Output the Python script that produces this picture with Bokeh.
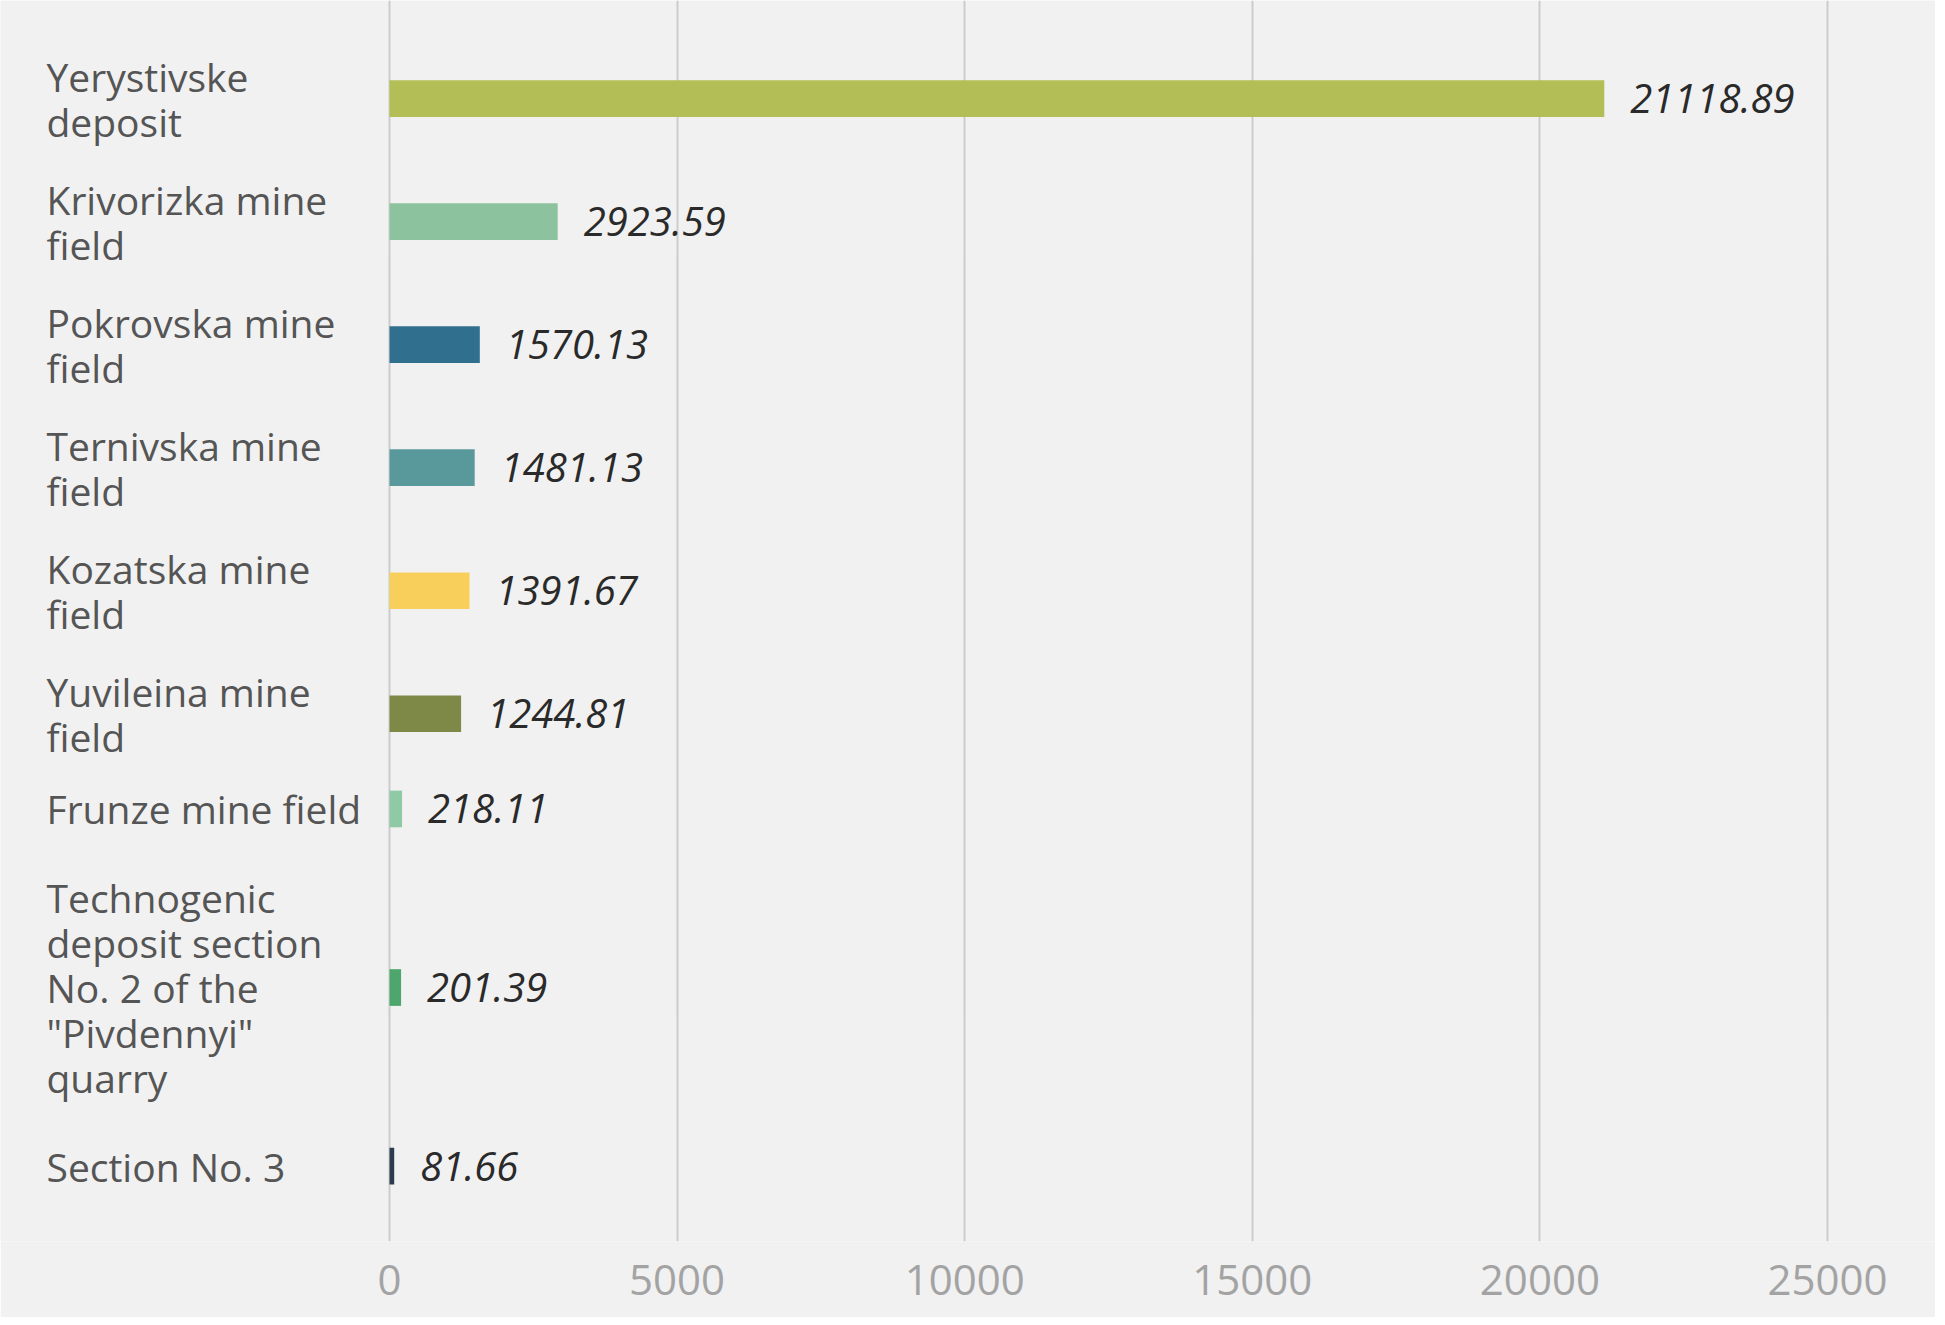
from bokeh.plotting import figure
from bokeh.models import ColumnDataSource, Range1d, FixedTicker
from bokeh.core.properties import value
from bokeh.embed import file_html
from bokeh.resources import INLINE

# ---- data ----
labels = [
    "Yerystivske\ndeposit",
    "Krivorizka mine\nfield",
    "Pokrovska mine\nfield",
    "Ternivska mine\nfield",
    "Kozatska mine\nfield",
    "Yuvileina mine\nfield",
    "Frunze mine field",
    "Technogenic\ndeposit section\nNo. 2 of the\n\"Pivdennyi\"\nquarry",
    "Section No. 3",
]
values = [21118.89, 2923.59, 1570.13, 1481.13, 1391.67, 1244.81, 218.11, 201.39, 81.66]
colors = ["#b3bf56", "#8cc29e", "#306f8e", "#5a999b", "#f9cf5b",
          "#7e8948", "#8fc9a5", "#4da66b", "#2b3c4e"]
ticks = [0, 5000, 10000, 15000, 20000, 25000]

# ---- layout (rows sized by number of label lines) ----
ROW_PAD = 0.214
TOP_PAD = 0.66
BOTTOM_PAD = 0.75
line_counts = [s.count("\n") + 1 for s in labels]
centers = []
acc = 0.0
for n in line_counts:
    h = ROW_PAD + n
    centers.append(acc + h / 2)
    acc += h
total = acc

W, H = 1935, 1317
px_per_unit = 1438 / 25000.0
x_start = -389 / px_per_unit
x_end = x_start + W / px_per_unit

src = ColumnDataSource(dict(
    y=centers, v=values, c=colors, lab=labels,
    vt=[f"{v:.2f}" for v in values],
    lx=[x_start] * len(values),
))

p = figure(width=W, height=H, output_backend="svg", toolbar_location=None,
           x_range=Range1d(x_start, x_end),
           y_range=Range1d(total + BOTTOM_PAD, -TOP_PAD),
           min_border=0, min_border_left=0, min_border_right=0,
           min_border_top=0, min_border_bottom=76)
p.outline_line_color = None
p.background_fill_color = "#f1f1f1"
p.border_fill_color = "#f1f1f1"

p.yaxis.visible = False
p.ygrid.grid_line_color = None

xa = p.xaxis[0]
xa.ticker = FixedTicker(ticks=ticks)
xa.axis_line_color = None
xa.major_tick_line_color = None
xa.minor_tick_line_color = None
xa.major_label_text_font = "Open Sans"
xa.major_label_text_font_size = "42px"
xa.major_label_text_color = "#a3a3a3"
xa.major_label_standoff = 17
p.xgrid.ticker = FixedTicker(ticks=ticks)
p.xgrid.grid_line_color = "#cccccc"
p.xgrid.grid_line_width = 2

p.hbar(y="y", left=0, right="v", height=0.66, fill_color="c", line_color=None, source=src)

p.text(x="v", y="y", text="vt", source=src, x_offset=26,
       text_font=value("Open Sans"), text_font_style="italic",
       text_font_size="40px", text_color="#2a2a2a",
       text_align="left", text_baseline="middle")

p.text(x="lx", y="y", text="lab", source=src, x_offset=46,
       text_font=value("Open Sans"), text_font_size="39px",
       text_color="#555555", text_align="left", text_baseline="middle",
       text_line_height=0.85)

open("out.html", "w").write(file_html(p, INLINE))
